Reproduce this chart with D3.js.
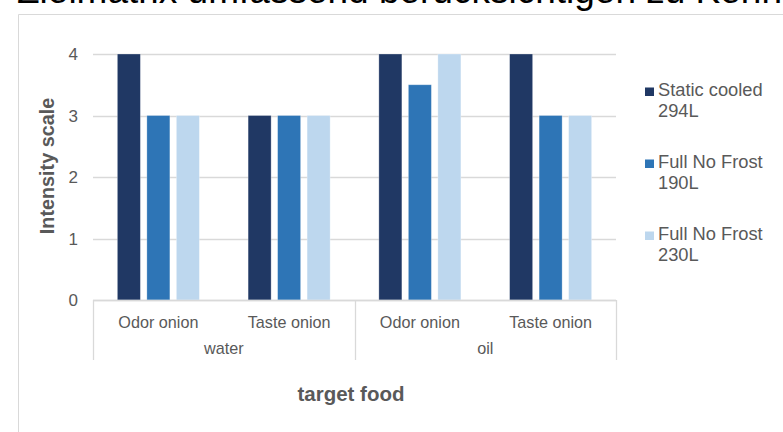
<!DOCTYPE html>
<html><head><meta charset="utf-8">
<script src="https://cdn.jsdelivr.net/npm/d3@7"></script>
<style>
body{margin:0;background:#fff;}
svg{display:block;font-family:"Liberation Sans",Arial,sans-serif;}
</style></head><body>
<svg id="c" width="783" height="432"></svg>
<script>
const groups = ["water", "oil"];
const categories = ["Odor onion", "Taste onion", "Odor onion", "Taste onion"];
const categoryGroup = ["water", "water", "oil", "oil"];
const seriesNames = ["Static cooled 294L", "Full No Frost 190L", "Full No Frost 230L"];
const seriesLabelLines = [["Static cooled", "294L"], ["Full No Frost", "190L"], ["Full No Frost", "230L"]];
const staticCooled294 = [4, 3, 4, 4];
const fullNoFrost190 = [3, 3, 3.5, 3];
const fullNoFrost230 = [3, 3, 4, 3];
const yTicks = [0, 1, 2, 3, 4];
const colors = ["#203864", "#2e75b6", "#bdd7ee"];

const svg = d3.select("#c");
const L = 93, R = 616, T = 54, B = 300;

// cut-off heading text at top
svg.append("text").attr("x", 17).attr("y", 3).attr("font-size", 37).attr("fill", "#000")
  .text("Zielmatrix umfassend berücksichtigen zu Kenntnis nehmen");
// frame
svg.append("path").attr("d", "M18.5,432 V14.5 H783").attr("fill", "none").attr("stroke", "#d9d9d9");

const y = d3.scaleLinear().domain([0, 4]).range([B, T]);
const idx = d3.range(categories.length);
const x0 = d3.scaleBand().domain(idx).range([L, R]).paddingInner(0).paddingOuter(0);
const x1 = d3.scaleBand().domain(d3.range(3)).range([0, x0.bandwidth()]).paddingInner(0.22).paddingOuter(0.826);

// gridlines
svg.append("g").selectAll("line").data(yTicks).join("line")
  .attr("x1", L).attr("x2", R).attr("y1", d => Math.round(y(d)) + 0.5).attr("y2", d => Math.round(y(d)) + 0.5)
  .attr("stroke", "#d9d9d9").attr("stroke-width", 1.3);
// y tick labels
svg.append("g").selectAll("text").data(yTicks).join("text")
  .attr("x", 78).attr("y", d => y(d) + 6).attr("text-anchor", "end")
  .attr("font-size", 17).attr("fill", "#595959").text(d => d);

// bars
const series = [staticCooled294, fullNoFrost190, fullNoFrost230];
series.forEach((vals, s) => {
  svg.append("g").selectAll("rect").data(vals).join("rect")
    .attr("x", (d, i) => x0(i) + x1(s)).attr("width", x1.bandwidth())
    .attr("y", d => y(d)).attr("height", d => y(0) - y(d))
    .attr("fill", colors[s]).attr("stroke", "#ffffff").attr("stroke-opacity", 0.35).attr("stroke-width", 0.8);
});

// category axis box
const ax = svg.append("g").attr("stroke", "#d9d9d9").attr("stroke-width", 1.3).attr("fill", "none");
ax.append("line").attr("x1", L).attr("x2", R).attr("y1", B + 0.5).attr("y2", B + 0.5);
const gBounds = groups.map(g => {
  const ids = idx.filter(i => categoryGroup[i] === g);
  return [x0(ids[0]), x0(ids[ids.length - 1]) + x0.bandwidth()];
});
const seps = [L, ...gBounds.map(b => b[1])];
ax.selectAll("line.sep").data(seps).join("line").attr("class", "sep")
  .attr("x1", d => Math.round(d) + 0.5).attr("x2", d => Math.round(d) + 0.5).attr("y1", B).attr("y2", 360);

svg.append("g").selectAll("text").data(idx).join("text")
  .attr("x", i => x0(i) + x0.bandwidth() / 2).attr("y", 328).attr("text-anchor", "middle")
  .attr("font-size", 16.2).attr("fill", "#595959").text(i => categories[i]);
svg.append("g").selectAll("text").data(groups).join("text")
  .attr("x", (g, k) => (gBounds[k][0] + gBounds[k][1]) / 2).attr("y", 354).attr("text-anchor", "middle")
  .attr("font-size", 16.2).attr("fill", "#595959").text(g => g);

// axis titles
svg.append("text").attr("x", 351).attr("y", 400.5).attr("text-anchor", "middle")
  .attr("font-size", 20.5).attr("font-weight", "bold").attr("fill", "#595959").text("target food");
svg.append("text").attr("transform", "translate(54,166) rotate(-90)").attr("text-anchor", "middle")
  .attr("font-size", 19.8).attr("font-weight", "bold").attr("fill", "#595959").text("Intensity scale");

// legend
const lg = svg.append("g").selectAll("g").data(seriesNames).join("g")
  .attr("transform", (d, i) => `translate(645,${96 + i * 72})`);
lg.append("rect").attr("x", 0).attr("y", -8.5).attr("width", 9).attr("height", 8.5).attr("fill", (d, i) => colors[i]);
lg.append("text").attr("x", 13).attr("y", 0).attr("font-size", 18.3).attr("fill", "#595959")
  .selectAll("tspan").data((d, i) => seriesLabelLines[i]).join("tspan")
  .attr("x", 13).attr("dy", (d, j) => j === 0 ? 0 : 21).text(d => d);
</script></body></html>
